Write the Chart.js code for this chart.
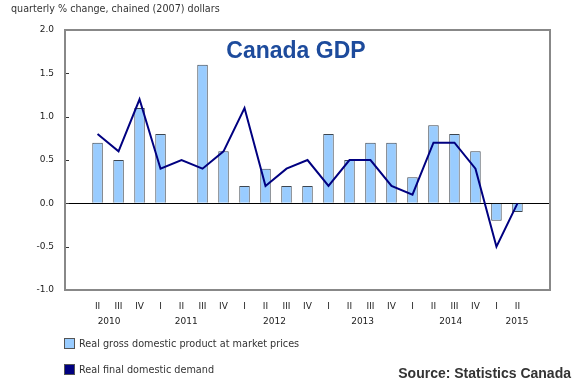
<!DOCTYPE html>
<html lang="en">
  <head>
    <meta charset="UTF-8" />
    <title>Canada GDP</title>
    <style>
      body { margin: 0; background: #fff; }
      #wrap { position: relative; width: 580px; height: 385px; font-family: "DejaVu Sans", Verdana, sans-serif; }
      #unit { position: absolute; left: 11px; top: 3px; font-size: 9.6px; color: #333; }
      #title { position: absolute; left: 196px; width: 200px; top: 37px; text-align: center;
               font: bold 23px "Liberation Sans", Arial, sans-serif; color: #1d4b9c; }
      .leg { position: absolute; left: 64px; font-size: 9.7px; color: #333; }
      .leg span { display: inline-block; width: 9px; height: 9px; border: 1px solid #555;
                  vertical-align: -2px; margin-right: 4px; }
      #source { position: absolute; right: 9px; top: 365px;
                font: bold 14px "Liberation Sans", Arial, sans-serif; color: #333; }
    </style>
  </head>
  <body>
    <div id="wrap">
      <canvas id="myChart" width="580" height="385"></canvas>
      <div id="unit">quarterly % change, chained (2007) dollars</div>
      <div id="title">Canada GDP</div>
      <div class="leg" style="top: 338px"><span style="background: #99ccff"></span>Real gross domestic product at market prices</div>
      <div class="leg" style="top: 364px"><span style="background: #000080"></span>Real final domestic demand</div>
      <div id="source">Source: Statistics Canada</div>
    </div>

    <script src="https://cdn.jsdelivr.net/npm/chart.js"></script>
    <script>
      const quarters = ["II", "III", "IV", "I", "II", "III", "IV", "I", "II", "III", "IV",
                        "I", "II", "III", "IV", "I", "II", "III", "IV", "I", "II"];
      const years = ["2010", "2011", "2012", "2013", "2014", "2015"];
      const yearPos = [1, 4.5, 8.5, 12.5, 16.5, 19.5]; // centre of each year's quarters
      const gdp = [0.7, 0.5, 1.1, 0.8, 0, 1.6, 0.6, 0.2, 0.4, 0.2, 0.2,
                   0.8, 0.5, 0.7, 0.7, 0.3, 0.9, 0.8, 0.6, -0.2, -0.1];
      const demand = [0.8, 0.6, 1.2, 0.4, 0.5, 0.4, 0.6, 1.1, 0.2, 0.4, 0.5,
                      0.2, 0.5, 0.5, 0.2, 0.1, 0.7, 0.7, 0.4, -0.5, 0.0];

      // frame round the plot and small inward ticks on the value axis
      const frame = {
        id: "frame",
        afterDatasetsDraw(chart) {
          const { ctx, chartArea: a, scales } = chart;
          ctx.save();
          ctx.strokeStyle = "#333";
          ctx.lineWidth = 1;
          scales.y.ticks.forEach((t) => {
            const y = Math.round(scales.y.getPixelForValue(t.value)) + 0.5;
            ctx.beginPath();
            ctx.moveTo(a.left, y);
            ctx.lineTo(a.left + 4, y);
            ctx.stroke();
          });
          ctx.strokeStyle = "#888";
          ctx.lineWidth = 2;
          ctx.strokeRect(a.left, a.top, a.right - a.left, a.bottom - a.top);
          ctx.restore();
        },
      };

      const font = { family: "'DejaVu Sans', Verdana, sans-serif", size: 9 };

      new Chart(document.getElementById("myChart"), {
        data: {
          datasets: [
            {
              type: "line",
              label: "Real final domestic demand",
              data: demand.map((v, i) => ({ x: i, y: v })),
              borderColor: "#000080",
              borderWidth: 2,
              pointRadius: 0,
              tension: 0,
              order: 0,
            },
            {
              type: "bar",
              label: "Real gross domestic product at market prices",
              data: gdp.map((v, i) => ({ x: i, y: v })),
              backgroundColor: "#99ccff",
              borderColor: "#3d4650",
              borderWidth: 1,
              barPercentage: 0.5,
              categoryPercentage: 1,
              order: 1,
            },
          ],
        },
        options: {
          responsive: false,
          animation: false,
          layout: { padding: { left: 0, top: 30, right: 30, bottom: 55 } },
          plugins: { legend: { display: false }, tooltip: { enabled: false } },
          scales: {
            x: {
              type: "linear",
              min: -1,
              max: 21,
              weight: 0,
              afterBuildTicks: (s) => { s.ticks = quarters.map((q, i) => ({ value: i })); },
              afterFit: (s) => { s.height = 24; },
              ticks: { autoSkip: false, maxRotation: 0, padding: 11, color: "#222", font,
                       callback: (v) => quarters[v] },
              grid: { display: false, drawTicks: false, tickLength: 0 },
              border: { display: false },
            },
            x2: {
              type: "linear",
              position: "bottom",
              min: -1,
              max: 21,
              weight: 1,
              afterBuildTicks: (s) => { s.ticks = yearPos.map((p) => ({ value: p })); },
              afterFit: (s) => { s.height = 16; },
              ticks: { autoSkip: false, maxRotation: 0, padding: 2, color: "#222", font,
                       callback: (v) => years[yearPos.indexOf(v)] },
              grid: { display: false, drawTicks: false, tickLength: 0 },
              border: { display: false },
            },
            y: {
              min: -1,
              max: 2,
              afterFit: (s) => { s.width = 65; },
              ticks: { stepSize: 0.5, padding: 11, color: "#222", font,
                       callback: (v) => v.toFixed(1) },
              grid: {
                drawTicks: false,
                color: (c) => (c.tick && c.tick.value === 0 ? "#000" : "rgba(0,0,0,0)"),
              },
              border: { display: false },
            },
          },
        },
        plugins: [frame],
      });
    </script>
  </body>
</html>
